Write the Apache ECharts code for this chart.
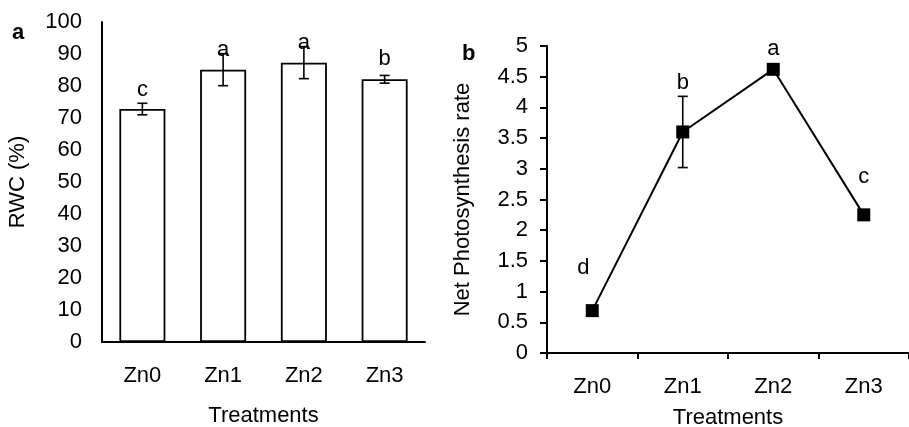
<!DOCTYPE html>
<html>
<head>
<meta charset="utf-8">
<script src="https://cdn.jsdelivr.net/npm/echarts@6/dist/echarts.min.js"></script>
<style>
  html, body { margin: 0; padding: 0; background: #fff; }
  #chart { width: 909px; height: 427px; }
</style>
</head>
<body>
<div id="chart"></div>
<script>
const categories = ['Zn0', 'Zn1', 'Zn2', 'Zn3']

// panel a - relative water content
const rwc = [72.8, 85.1, 87.3, 82.1]
const rwcErr = [1.8, 5, 5, 1.2]
const rwcLetters = ['c', 'a', 'a', 'b']
const rwcLetterAt = [78.8, 91.3, 93.4, 88.4]
const rwcTicks = { min: 0, max: 100, interval: 10 }

// panel b - net photosynthesis
const photo = [0.69, 3.6, 4.62, 2.25]
const photoErr = [0.02, 0.58, 0.02, 0.07]
const photoLetters = ['d', 'b', 'a', 'c']
const photoLetterAt = [1.38, 4.4, 4.95, 2.87]
const photoTicks = { min: 0, max: 5, interval: 0.5 }

const font = 'Liberation Sans'
const black = '#000'

const textStyle = { color: black, fontSize: 22, fontFamily: font }

function errorBars(idx, values, errs, cap) {
  return {
    type: 'custom',
    xAxisIndex: idx,
    yAxisIndex: idx,
    z: 10,
    data: values.map((v, i) => [i, v - errs[i], v + errs[i]]),
    encode: { x: 0, y: [1, 2] },
    renderItem(params, api) {
      const lo = api.coord([api.value(0), api.value(1)])
      const hi = api.coord([api.value(0), api.value(2)])
      const style = { stroke: black, lineWidth: 1.6 }
      return {
        type: 'group',
        children: [
          { type: 'line', shape: { x1: lo[0], y1: lo[1], x2: hi[0], y2: hi[1] }, style },
          { type: 'line', shape: { x1: lo[0] - cap, y1: lo[1], x2: lo[0] + cap, y2: lo[1] }, style },
          { type: 'line', shape: { x1: hi[0] - cap, y1: hi[1], x2: hi[0] + cap, y2: hi[1] }, style },
        ]
      }
    }
  }
}

function letters(idx, labels, at, shiftFirst) {
  return {
    type: 'custom',
    xAxisIndex: idx,
    yAxisIndex: idx,
    z: 11,
    data: at.map((v, i) => [i, v]),
    renderItem(params, api) {
      const p = api.coord([api.value(0), api.value(1)])
      const dx = params.dataIndex === 0 ? shiftFirst : 0
      return {
        type: 'text',
        x: p[0] + dx,
        y: p[1],
        style: {
          text: labels[params.dataIndex],
          fill: black,
          font: '22px "' + font + '"',
          align: 'center',
          verticalAlign: 'middle'
        }
      }
    }
  }
}

const chart = echarts.init(document.getElementById('chart'))
chart.setOption({
  backgroundColor: '#fff',
  animation: false,
  grid: [
    { left: 102, top: 22, width: 323, height: 320, outerBoundsMode: 'none', containLabel: false },
    { left: 547, top: 46, width: 362, height: 307, outerBoundsMode: 'none', containLabel: false }
  ],
  xAxis: [
    {
      gridIndex: 0,
      type: 'category',
      data: categories,
      axisLine: { lineStyle: { color: black, width: 2 } },
      axisTick: { show: false },
      axisLabel: Object.assign({ margin: 23 }, textStyle),
      name: 'Treatments',
      nameLocation: 'middle',
      nameGap: 63,
      nameTextStyle: textStyle
    },
    {
      gridIndex: 1,
      type: 'category',
      data: categories,
      axisLine: { lineStyle: { color: black, width: 2 } },
      axisTick: { show: true, length: 6, lineStyle: { color: black, width: 2 } },
      axisLabel: Object.assign({ margin: 23 }, textStyle),
      name: 'Treatments',
      nameLocation: 'middle',
      nameGap: 54,
      nameTextStyle: textStyle
    }
  ],
  yAxis: [
    {
      gridIndex: 0,
      type: 'value',
      min: rwcTicks.min,
      max: rwcTicks.max,
      interval: rwcTicks.interval,
      axisLine: { show: true, lineStyle: { color: black, width: 2 } },
      axisTick: { show: false },
      splitLine: { show: false },
      axisLabel: Object.assign({ margin: 20 }, textStyle),
      name: 'RWC (%)',
      nameLocation: 'middle',
      nameRotate: 90,
      nameGap: 73,
      nameTextStyle: textStyle
    },
    {
      gridIndex: 1,
      type: 'value',
      min: photoTicks.min,
      max: photoTicks.max,
      interval: photoTicks.interval,
      axisLine: { show: true, lineStyle: { color: black, width: 2 } },
      axisTick: { show: true, length: 7, lineStyle: { color: black, width: 2 } },
      splitLine: { show: false },
      axisLabel: Object.assign({ margin: 19 }, textStyle),
      name: 'Net Photosynthesis rate',
      nameLocation: 'middle',
      nameRotate: 90,
      nameGap: 73,
      nameTextStyle: textStyle
    }
  ],
  graphic: [
    { type: 'text', left: 12, top: 22, style: { text: 'a', font: 'bold 22px "' + font + '"', fill: black } },
    { type: 'text', left: 462, top: 43, style: { text: 'b', font: 'bold 22px "' + font + '"', fill: black } }
  ],
  series: [
    {
      type: 'bar',
      xAxisIndex: 0,
      yAxisIndex: 0,
      data: rwc,
      barWidth: 46,
      itemStyle: { color: '#fff', borderColor: black, borderWidth: 1.8 }
    },
    errorBars(0, rwc, rwcErr, 5),
    letters(0, rwcLetters, rwcLetterAt, 0),
    {
      type: 'line',
      xAxisIndex: 1,
      yAxisIndex: 1,
      data: photo,
      symbol: 'rect',
      symbolSize: 13,
      itemStyle: { color: black },
      lineStyle: { color: black, width: 2 },
      z: 5
    },
    errorBars(1, photo, photoErr, 5),
    letters(1, photoLetters, photoLetterAt, -9)
  ]
})
</script>
</body>
</html>
